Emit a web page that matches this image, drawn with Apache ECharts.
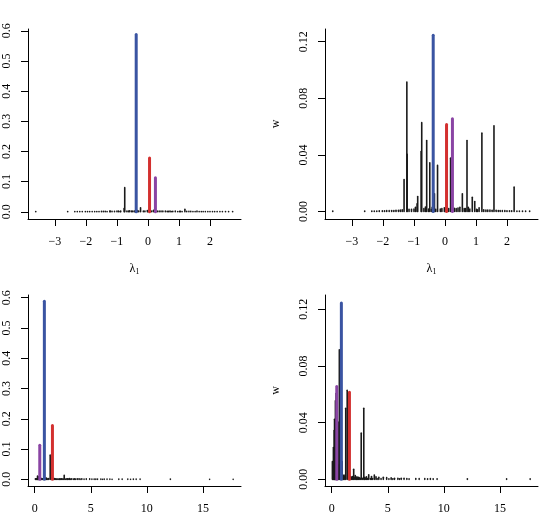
<!DOCTYPE html>
<html>
<head>
<meta charset="utf-8">
<script src="https://cdn.jsdelivr.net/npm/echarts@6/dist/echarts.min.js"></script>
<style>
  html, body { margin: 0; padding: 0; background: #fff; }
  #chart { width: 547px; height: 523px; }
</style>
</head>
<body>
<div id="chart"></div>
<script>
// x position of every line in the upper panels (lambda_1)
var lambdaTop = [
  -0.38, 0.05, 0.24, -0.75, -1.23, -0.77, -0.24, 1.19, 1.58, -1.22, -1.32, -0.59, 0.71,
  -0.49, 0.18, 2.23, 0.56, 0.96, -0.34, -0.88, 0.88, -0.90, 0.75, 1.10, -0.02, -0.41,
  -3.62, -2.59, -2.36, -2.28, -2.20, -2.12, -2.02, -1.95, -1.88, -1.80, -1.72, -1.65,
  -1.58, -1.50, -1.44, -1.38, -1.16, -1.08, -1.00, -0.95, -0.68, -0.63, -0.53, -0.44,
  -0.30, -0.15, -0.10, 0.00, 0.12, 0.30, 0.36, 0.42, 0.48, 0.62, 0.66, 0.80, 1.02, 1.05,
  1.25, 1.32, 1.38, 1.45, 1.52, 1.65, 1.72, 1.78, 1.85, 1.93, 2.00, 2.08, 2.15, 2.32,
  2.40, 2.50, 2.60, 2.73
];
// x position of the same lines in the lower panels
var xBottom = [
  0.86, 1.58, 0.45, 1.38, 0.68, 0.25, 2.63, 0.33, 0.39, 0.57, 0.15, 1.25, 2.86,
  0.22, 0.52, 0.30, 0.06, 1.96, 0.93, 0.42, 0.62, 0.36, 1.10, 2.10, 1.05, 0.80,
  17.70, 15.60, 12.10, 9.40, 9.05, 8.80, 8.30, 7.80, 7.50, 6.70, 6.45, 6.20,
  5.90, 5.60, 5.30, 4.90, 4.60, 4.20, 3.95, 3.80, 3.55, 3.30, 3.10, 2.95,
  2.40, 2.25, 1.85, 1.75, 1.68, 1.48, 1.18, 1.00, 0.74, 0.55, 0.49, 0.27, 0.18, 0.10,
  2.00, 2.20, 2.32, 2.45, 2.55, 2.75, 2.95, 3.05, 3.20, 3.45, 3.65, 4.05, 4.40, 5.10,
  5.45, 6.05, 6.90, 8.55
];
// weights, left panels
var weightLeft = [
  0.588, 0.178, 0.113, 0.080, 0.002, 0.011, 0.013, 0.008, 0.002, 0.002, 0.001, 0.003, 0.002,
  0.002, 0.005, 0.001, 0.002, 0.001, 0.004, 0.002, 0.002, 0.001, 0.001, 0.001, 0.004, 0.002,
  0.0005, 0.0005, 0.0006, 0.0006, 0.0007, 0.0007, 0.0008, 0.0008, 0.0009, 0.0009, 0.001, 0.001,
  0.001, 0.0012, 0.0012, 0.0015, 0.0015, 0.0018, 0.002, 0.002, 0.002, 0.002, 0.0025, 0.002,
  0.002, 0.002, 0.002, 0.0025, 0.002, 0.002, 0.002, 0.002, 0.002, 0.0015, 0.0015, 0.0015, 0.0015, 0.0015,
  0.0012, 0.0012, 0.0012, 0.001, 0.001, 0.001, 0.001, 0.0009, 0.0009, 0.0008, 0.0008, 0.0007, 0.0007, 0.0006,
  0.0006, 0.0005, 0.0005, 0.0005
];
// weights w, right panels
var weightRight = [
  0.1245, 0.0615, 0.0655, 0.0628, 0.0915, 0.0424, 0.0326, 0.0554, 0.0606, 0.0404, 0.0225, 0.0502, 0.0502,
  0.0344, 0.0377, 0.0172, 0.0125, 0.0071, 0.0125, 0.0106, 0.0101, 0.0054, 0.0030, 0.0026, 0.0026, 0.0030,
  0.0003, 0.0003, 0.0004, 0.0004, 0.0004, 0.0005, 0.0005, 0.0005, 0.0006, 0.0006, 0.0007, 0.0007,
  0.0008, 0.0008, 0.0010, 0.0012, 0.0015, 0.0015, 0.0018, 0.0030, 0.0020, 0.0032, 0.0018, 0.0015,
  0.0015, 0.0018, 0.0020, 0.0015, 0.0020, 0.0022, 0.0020, 0.0025, 0.0030, 0.0020, 0.0020, 0.0018, 0.0015, 0.0012,
  0.0012, 0.0010, 0.0010, 0.0010, 0.0008, 0.0008, 0.0007, 0.0007, 0.0006, 0.0006, 0.0005, 0.0005, 0.0005, 0.0004,
  0.0004, 0.0004, 0.0003, 0.0003
];
// 0 black, 1 blue, 2 red, 3 purple
var kind = [1, 2, 3];

var xTicksTop = [-3, -2, -1, 0, 1, 2];
var xTicksBottom = [0, 5, 10, 15];
var yTicksLeft = [0, 0.1, 0.2, 0.3, 0.4, 0.5, 0.6];
var yTicksRight = [0, 0.04, 0.08, 0.12];

var colors = ["#1a1a1a", "#3a54a2", "#d3302f", "#8a44a4"];
var serif = "Liberation Serif";

function rows(xs, ws) {
  var out = [];
  for (var i = 0; i < xs.length; i++) {
    out.push([xs[i], ws[i], kind[i] || 0]);
  }
  // black first, coloured on top
  out.sort(function (a, b) { return a[2] - b[2]; });
  return out;
}

function renderItem(params, api) {
  var k = api.value(2);
  var p0 = api.coord([api.value(0), 0]);
  var p1 = api.coord([api.value(0), api.value(1)]);
  return {
    type: "line",
    shape: { x1: p0[0], y1: p0[1], x2: p1[0], y2: p1[1] },
    style: { stroke: colors[k], lineWidth: k ? 3 : 1.6, lineCap: "round" }
  };
}

function fmtMinus(v) {
  return v < 0 ? "\u2212" + Math.abs(v) : String(v);
}

var axisCommon = {
  axisLine: { show: true, onZero: false, lineStyle: { color: "#000", width: 1 } },
  axisTick: { show: true, inside: false, length: 7, lineStyle: { color: "#000" } },
  splitLine: { show: false }
};

function xAxis(idx, min, max, ticks, withName) {
  var a = Object.assign({}, axisCommon, {
    type: "value",
    gridIndex: idx,
    min: min,
    max: max,
    axisTick: Object.assign({}, axisCommon.axisTick, { customValues: ticks }),
    axisLabel: {
      customValues: ticks,
      margin: 17,
      fontFamily: serif,
      fontSize: 12,
      color: "#000",
      formatter: fmtMinus
    }
  });
  if (withName) {
    a.name = "{l|λ}{s|1}";
    a.nameLocation = "middle";
    a.nameGap = 42;
    a.nameTextStyle = {
      rich: {
        l: { fontFamily: serif, fontSize: 12, color: "#000" },
        s: { fontFamily: serif, fontSize: 8, color: "#000", padding: [7, 0, 0, 0] }
      }
    };
  }
  return a;
}

function yAxis(idx, min, max, ticks, digits, withName) {
  var a = Object.assign({}, axisCommon, {
    type: "value",
    gridIndex: idx,
    min: min,
    max: max,
    axisTick: Object.assign({}, axisCommon.axisTick, { customValues: ticks }),
    axisLabel: {
      customValues: ticks,
      rotate: 90,
      margin: 15,
      fontFamily: serif,
      fontSize: 12,
      color: "#000",
      formatter: function (v) { return v.toFixed(digits); }
    }
  });
  if (withName) {
    a.name = "w";
    a.nameLocation = "middle";
    a.nameRotate = 90;
    a.nameGap = 43;
    a.nameTextStyle = { fontFamily: serif, fontSize: 12, color: "#000" };
  }
  return a;
}

var myChart = echarts.init(document.getElementById("chart"), null, { renderer: "canvas" });
myChart.setOption({
  animation: false,
  backgroundColor: "#fff",
  grid: [
    { left: 28, top: 29, width: 213, height: 190, outerBoundsMode: "none" },
    { left: 325, top: 29, width: 213, height: 190, outerBoundsMode: "none" },
    { left: 28, top: 295, width: 213, height: 191, outerBoundsMode: "none" },
    { left: 325, top: 295, width: 213, height: 191, outerBoundsMode: "none" }
  ],
  xAxis: [
    xAxis(0, -3.87, 3.0, xTicksTop, true),
    xAxis(1, -3.87, 3.0, xTicksTop, true),
    xAxis(2, -0.6, 18.4, xTicksBottom, false),
    xAxis(3, -0.6, 18.4, xTicksBottom, false)
  ],
  yAxis: [
    yAxis(0, -0.024, 0.606, yTicksLeft, 1, false),
    yAxis(1, -0.0053, 0.129, yTicksRight, 2, true),
    yAxis(2, -0.022, 0.609, yTicksLeft, 1, false),
    yAxis(3, -0.0047, 0.1301, yTicksRight, 2, true)
  ],
  series: [
    { type: "custom", xAxisIndex: 0, yAxisIndex: 0, renderItem: renderItem, data: rows(lambdaTop, weightLeft) },
    { type: "custom", xAxisIndex: 1, yAxisIndex: 1, renderItem: renderItem, data: rows(lambdaTop, weightRight) },
    { type: "custom", xAxisIndex: 2, yAxisIndex: 2, renderItem: renderItem, data: rows(xBottom, weightLeft) },
    { type: "custom", xAxisIndex: 3, yAxisIndex: 3, renderItem: renderItem, data: rows(xBottom, weightRight) }
  ]
});
</script>
</body>
</html>
